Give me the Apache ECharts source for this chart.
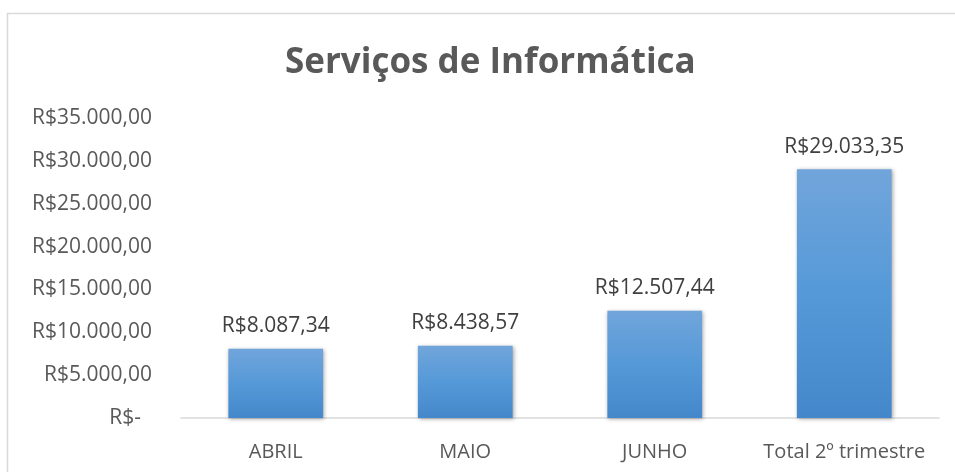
<!DOCTYPE html>
<html>
<head>
<meta charset="utf-8">
<script src="https://cdn.jsdelivr.net/npm/echarts@6/dist/echarts.min.js"></script>
<style>
	html, body { margin: 0; padding: 0; background: #fff; }
	#chart { width: 955px; height: 472px; }
</style>
</head>
<body>
<div id="chart"></div>
<script>
// dados do grafico
var categorias = [ 'ABRIL', 'MAIO', 'JUNHO', 'Total 2º trimestre' ];
var valores = [ 8087.34, 8438.57, 12507.44, 29033.35 ];
var eixoMin = 0, eixoMax = 35000, eixoPasso = 5000;

var myChart = echarts.init(document.getElementById('chart'));

// formata no padrao brasileiro: 35.000,00
function moeda(v) {
	var partes = v.toFixed(2).split('.');
	var inteiro = partes[0].replace(/\B(?=(\d{3})+(?!\d))/g, '.');
	return 'R$' + inteiro + ',' + partes[1];
}

var fonte = '"Open Sans", "Noto Sans", sans-serif';

var option = {
	animation : false,
	title : {
		text : 'Serviços de Informática',
		left : 280,
		top : 41,
		textStyle : {
			fontFamily : fonte,
			fontSize : 35,
			fontWeight : 'bold',
			color : '#595959'
		}
	},
	graphic : [ { // moldura do grafico
		type : 'rect',
		shape : { x : 7.5, y : 13.5, width : 1000, height : 1000 },
		style : { fill : 'none', stroke : '#d9d9d9', lineWidth : 1.5 },
		silent : true
	} ],
	grid : {
		left : 181,
		right : 16,
		top : 118,
		bottom : 54,
		containLabel : false
	},
	xAxis : {
		type : 'category',
		data : categorias,
		axisLine : { lineStyle : { color : '#d9d9d9', width : 1.5 } },
		axisTick : { show : false },
		axisLabel : {
			interval : 0,
			margin : 24,
			fontFamily : fonte,
			fontSize : 20,
			color : '#595959'
		}
	},
	yAxis : {
		type : 'value',
		min : eixoMin,
		max : eixoMax,
		interval : eixoPasso,
		splitLine : { show : false },
		axisLine : { show : false },
		axisTick : { show : false },
		axisLabel : {
			margin : 29,
			fontFamily : fonte,
			fontSize : 21,
			color : '#595959',
			formatter : function(v) {
				return v === 0 ? 'R$-  ' : moeda(v);
			}
		}
	},
	series : [ {
		type : 'bar',
		data : valores,
		barWidth : '50%',
		itemStyle : {
			color : new echarts.graphic.LinearGradient(0, 0, 0, 1, [
				{ offset : 0, color : '#71a5db' },
				{ offset : 0.5, color : '#5599d8' },
				{ offset : 1, color : '#4488cb' }
			]),
			shadowColor : 'rgba(0,0,0,0.35)',
			shadowBlur : 4,
			shadowOffsetX : 1,
			shadowOffsetY : 1
		},
		label : {
			show : true,
			position : 'top',
			distance : 12,
			fontFamily : fonte,
			fontSize : 21,
			color : '#404040',
			formatter : function(p) {
				return moeda(p.value);
			}
		}
	} ]
};

myChart.setOption(option);
</script>
</body>
</html>
